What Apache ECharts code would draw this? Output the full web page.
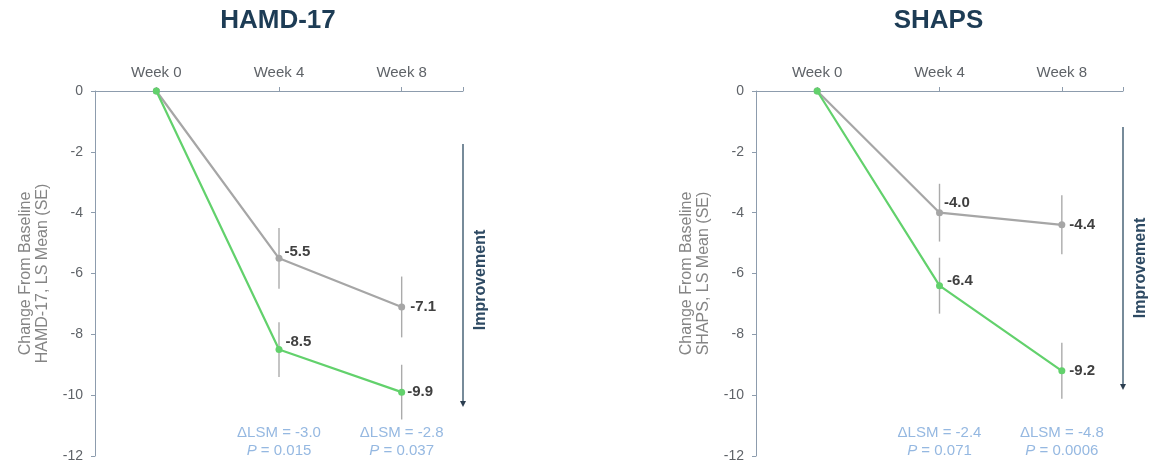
<!DOCTYPE html>
<html>
<head>
<meta charset="utf-8">
<script src="https://cdn.jsdelivr.net/npm/echarts@6/dist/echarts.min.js"></script>
<style>
  html, body { margin: 0; padding: 0; background: #ffffff; }
  #chart { width: 1161px; height: 464px; }
</style>
</head>
<body>
<div id="chart"></div>
<script>
// Visit labels and their week numbers
const weekLabels = ['Week 0', 'Week 4', 'Week 8'];
const weeks = [0, 4, 8];

// HAMD-17: LS mean change from baseline and SE
const hamdPlacebo = [0, -5.5, -7.1];
const hamdPlaceboSE = [0, 1.0, 1.0];
const hamdActive = [0, -8.5, -9.9];
const hamdActiveSE = [0, 0.9, 0.9];
const hamdDeltaLSM = ['-3.0', '-2.8'];
const hamdPValue = ['0.015', '0.037'];

// SHAPS: LS mean change from baseline and SE
const shapsPlacebo = [0, -4.0, -4.4];
const shapsPlaceboSE = [0, 0.95, 0.97];
const shapsActive = [0, -6.4, -9.2];
const shapsActiveSE = [0, 0.92, 0.92];
const shapsDeltaLSM = ['-2.4', '-4.8'];
const shapsPValue = ['0.071', '0.0006'];

const FONT = 'Arial, "Liberation Sans", Helvetica, sans-serif';
const C_AXIS = '#8d9cad';
const C_TICKTEXT = '#5f6368';
const C_PLACEBO = '#a6a6a6';
const C_ACTIVE = '#62d16c';
const C_ERR = '#ababab';
const C_NOTE = '#7aa6da';
const C_TITLE = '#1d3c55';
const C_ARROW = '#4a6579';

const panels = [
  {
    title: 'HAMD-17', yName: 'Change From Baseline\nHAMD-17, LS Mean (SE)',
    grid: { left: 95, top: 91, width: 368, height: 365 },
    placebo: hamdPlacebo, placeboSE: hamdPlaceboSE,
    active: hamdActive, activeSE: hamdActiveSE,
    delta: hamdDeltaLSM, p: hamdPValue,
    placeboShift: [[0, 0], [2, -6], [5, 0]],
    activeShift: [[0, 0], [3, -8], [2, 0]],
    arrow: { x: 463, y1: 144, y2: 406 }, improveY: 280
  },
  {
    title: 'SHAPS', yName: 'Change From Baseline\nSHAPS, LS Mean (SE)',
    grid: { left: 756, top: 91, width: 367, height: 365 },
    placebo: shapsPlacebo, placeboSE: shapsPlaceboSE,
    active: shapsActive, activeSE: shapsActiveSE,
    delta: shapsDeltaLSM, p: shapsPValue,
    placeboShift: [[0, 0], [1, -10], [4, 0]],
    activeShift: [[0, 0], [4, -5], [4, 0]],
    arrow: { x: 1123, y1: 127, y2: 389 }, improveY: 268
  }
];

const NOTE_Y = -11.52; // vertical anchor of the ΔLSM / P notes, in axis units

const grids = [], xAxes = [], yAxes = [], series = [], graphics = [];

panels.forEach((pn, k) => {
  grids.push(Object.assign({ containLabel: false }, pn.grid));

  xAxes.push({
    type: 'value', gridIndex: k, position: 'top', min: -2, max: 10,
    axisLine: { show: true, onZero: false, lineStyle: { color: C_AXIS, width: 1 } },
    axisTick: { show: true, inside: false, length: 4, customValues: [0, 4, 8, 10], lineStyle: { color: C_AXIS } },
    axisLabel: {
      show: true, customValues: weeks, margin: 11,
      formatter: v => weekLabels[weeks.indexOf(v)] || '',
      color: C_TICKTEXT, fontSize: 15, fontFamily: FONT
    },
    splitLine: { show: false }
  });

  yAxes.push({
    type: 'value', gridIndex: k, min: -12, max: 0, interval: 2,
    name: pn.yName, nameLocation: 'middle', nameGap: 44,
    nameTextStyle: { color: '#858585', fontSize: 16, fontFamily: FONT, lineHeight: 17, align: 'center' },
    axisLine: { show: true, onZero: false, lineStyle: { color: C_AXIS, width: 1 } },
    axisTick: { show: true, length: 4, lineStyle: { color: C_AXIS } },
    axisLabel: { color: C_TICKTEXT, fontSize: 14, fontFamily: FONT, margin: 12 },
    splitLine: { show: false }
  });

  const errData = (vals, se) => weeks
    .map((w, i) => [w, vals[i] - se[i], vals[i] + se[i]])
    .filter((d, i) => se[i] > 0);

  const errSeries = (vals, se) => ({
    type: 'custom', xAxisIndex: k, yAxisIndex: k, z: 1,
    encode: { x: 0, y: [1, 2] },
    data: errData(vals, se),
    renderItem: (params, api) => {
      const top = api.coord([api.value(0), api.value(2)]);
      const bot = api.coord([api.value(0), api.value(1)]);
      return {
        type: 'line',
        shape: { x1: top[0], y1: top[1], x2: bot[0], y2: bot[1] },
        style: { stroke: C_ERR, lineWidth: 1.4 }
      };
    },
    silent: true
  });

  const lineSeries = (vals, color, shifts, z) => ({
    type: 'line', xAxisIndex: k, yAxisIndex: k, z: z,
    symbol: 'circle', symbolSize: 7,
    lineStyle: { color: color, width: 2.2 },
    itemStyle: { color: color },
    data: weeks.map((w, i) => ({
      value: [w, vals[i]],
      label: {
        show: i > 0, position: 'right',
        distance: shifts[i][0], offset: [0, shifts[i][1]]
      }
    })),
    label: {
      formatter: p => p.value[1].toFixed(1),
      color: '#404040', fontWeight: 'bold', fontSize: 15, fontFamily: FONT
    },
    silent: true, animation: false
  });

  series.push(errSeries(pn.placebo, pn.placeboSE));
  series.push(errSeries(pn.active, pn.activeSE));
  series.push(lineSeries(pn.placebo, C_PLACEBO, pn.placeboShift, 3));
  series.push(lineSeries(pn.active, C_ACTIVE, pn.activeShift, 4));

  // ΔLSM and P-value notes under week 4 and week 8
  series.push({
    type: 'scatter', xAxisIndex: k, yAxisIndex: k, symbolSize: 0,
    data: weeks.slice(1).map((w, i) => ({ value: [w, NOTE_Y], delta: pn.delta[i], pv: pn.p[i] })),
    label: {
      show: true, position: 'inside', align: 'center', verticalAlign: 'middle',
      formatter: p => '{a|\u0394LSM = ' + p.data.delta + '}\n{i|P}{a| = ' + p.data.pv + '}',
      rich: {
        a: { color: C_NOTE, fontSize: 15, fontFamily: FONT, lineHeight: 18 },
        i: { color: C_NOTE, fontSize: 15, fontFamily: FONT, fontStyle: 'italic', lineHeight: 18 }
      }
    },
    silent: true, animation: false
  });

  // Panel title
  graphics.push({
    type: 'text', x: pn.grid.left + pn.grid.width / 2 - 1, y: 21,
    style: {
      text: pn.title, fill: C_TITLE, font: 'bold 26px ' + FONT,
      textAlign: 'center', textVerticalAlign: 'middle'
    }
  });

  // "Improvement" direction arrow
  const a = pn.arrow;
  graphics.push({
    type: 'line', shape: { x1: a.x, y1: a.y1, x2: a.x, y2: a.y2 - 3 },
    style: { stroke: C_ARROW, lineWidth: 1.5 }
  });
  graphics.push({
    type: 'polygon', shape: { points: [[a.x - 3, a.y2 - 5], [a.x + 3, a.y2 - 5], [a.x, a.y2 + 1]] },
    style: { fill: '#2c3e50' }
  });
  graphics.push({
    type: 'text', x: a.x + 18, y: pn.improveY, rotation: Math.PI / 2,
    style: {
      text: 'Improvement', fill: '#2e4a63', font: 'bold 16px ' + FONT,
      textAlign: 'center', textVerticalAlign: 'middle'
    }
  });
});

const chart = echarts.init(document.getElementById('chart'), null, { renderer: 'canvas' });
chart.setOption({
  backgroundColor: '#ffffff',
  animation: false,
  grid: grids,
  xAxis: xAxes,
  yAxis: yAxes,
  series: series,
  graphic: graphics
});
</script>
</body>
</html>
